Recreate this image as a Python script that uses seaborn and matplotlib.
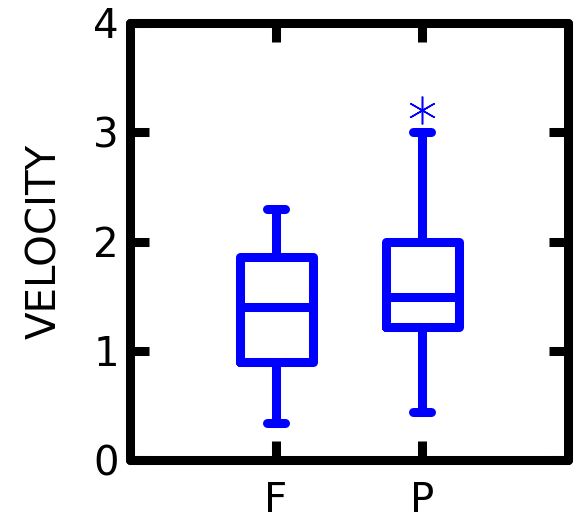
import matplotlib
matplotlib.use("Agg")
import matplotlib.pyplot as plt
import seaborn as sns
import pandas as pd

# Sample values chosen so that the box statistics match the reference
f_values = [0.34, 0.60, 0.90, 1.10, 1.40, 1.60, 1.86, 2.10, 2.30]
p_values = [0.44, 1.00, 1.22, 1.35, 1.49, 1.80, 2.00, 3.00, 3.20]
categories = ["F", "P"]
y_ticks = [0, 1, 2, 3, 4]

df = pd.DataFrame({
    "group": [categories[0]] * len(f_values) + [categories[1]] * len(p_values),
    "VELOCITY": f_values + p_values,
})

sns.set_style("white")
plt.rcParams["font.family"] = ["DejaVu Sans"]
plt.rcParams["text.color"] = "black"
plt.rcParams["axes.labelcolor"] = "black"
plt.rcParams["xtick.color"] = "black"
plt.rcParams["ytick.color"] = "black"

fig = plt.figure(figsize=(5.77, 5.24), dpi=100)
ax = fig.add_axes([130 / 577, 1 - 460 / 524, 438 / 577, 437 / 524])

lw = 6.5
lineprops = dict(solid_capstyle="round", solid_joinstyle="round")
sns.boxplot(
    data=df, x="group", y="VELOCITY", order=categories, ax=ax,
    color="#0000FF", fill=False, width=0.5, linewidth=lw, whis=1.5,
    boxprops=dict(lineprops), whiskerprops=dict(lineprops),
    capprops=dict(lineprops), medianprops=dict(lineprops),
    flierprops=dict(marker=(6, 2, 0), markersize=20, markeredgewidth=1.1,
                    markeredgecolor="#0000FF", markerfacecolor="#0000FF",
                    linestyle="none"),
    capwidths=0.12,
)

for ln in ax.lines:
    ln.set_solid_capstyle("round")
    ln.set_solid_joinstyle("round")

ax.set_xlim(-1, 2)
ax.set_ylim(0, 4)
ax.set_yticks(y_ticks)
ax.set_xlabel("")
ax.set_ylabel("VELOCITY", fontsize=29, labelpad=20, color="black")

for sp in ax.spines.values():
    sp.set_visible(True)
    sp.set_color("black")
    sp.set_linewidth(lw)
    sp.set_capstyle("round")
    sp.set_joinstyle("round")

ax.tick_params(axis="both", direction="in", length=14, width=lw,
               color="black", labelcolor="black",
               top=True, right=True, left=True, bottom=True, labelsize=29)
ax.tick_params(axis="x", pad=15)
ax.tick_params(axis="y", pad=8)

fig.savefig("out.png", dpi=100)
